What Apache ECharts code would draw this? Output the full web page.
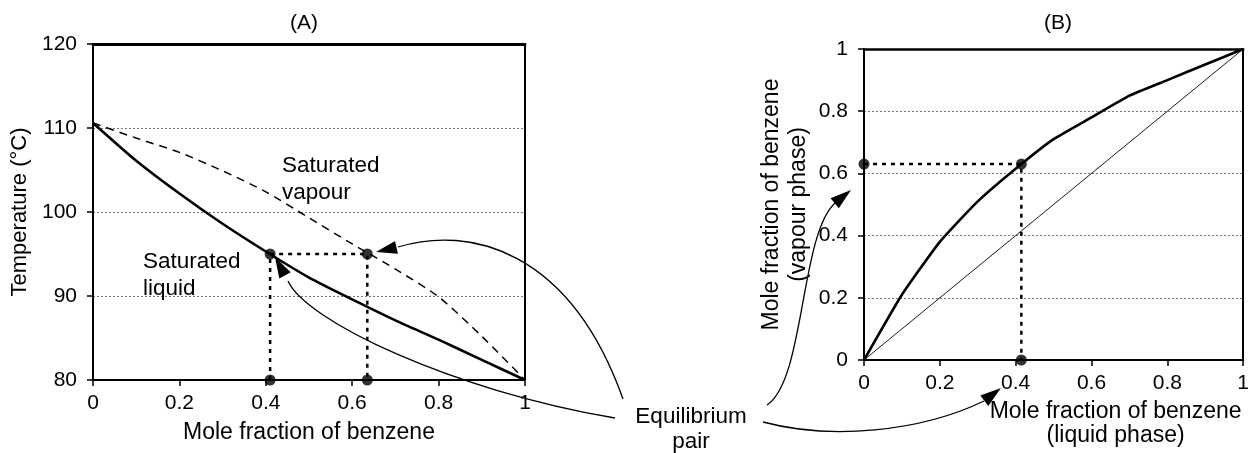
<!DOCTYPE html>
<html><head><meta charset="utf-8">
<script src="https://cdn.jsdelivr.net/npm/echarts@6/dist/echarts.min.js"></script>
<style>html,body{margin:0;padding:0;background:#fff}#c{width:1252px;height:453px}</style>
</head><body><div id="c"></div>
<script>
// ---- data (chart A: T-x-y diagram) ----
const liquidX = [0, 0.1, 0.2, 0.3, 0.4, 0.5, 0.6, 0.7, 0.8, 0.9, 1];
const liquidT = [110.6, 106.1, 102.2, 98.6, 95.3, 92.2, 89.6, 87.1, 84.8, 82.4, 80.0];
const vapourX = [0, 0.1, 0.2, 0.3, 0.4, 0.5, 0.6, 0.7, 0.8, 0.9, 1];
const vapourT = [110.6, 108.8, 107.1, 104.9, 102.4, 99.3, 96.2, 93.2, 89.9, 85.2, 80.0];
const pairT = 95;
const pairLiquidX = 0.41;
const pairVapourX = 0.635;
const tempTicks = [80, 90, 100, 110, 120];
// ---- data (chart B: x-y diagram) ----
const eqX = [0, 0.1, 0.2, 0.3, 0.4, 0.5, 0.6, 0.7, 0.8, 0.9, 1];
const eqY = [0, 0.21, 0.38, 0.51, 0.615, 0.71, 0.78, 0.85, 0.9, 0.95, 1];
const diagX = [0, 1];
const bLiquid = 0.415;
const bVapour = 0.63;
const fracTicks = [0, 0.2, 0.4, 0.6, 0.8, 1];

const FONT = '"Liberation Sans", Arial, Helvetica, sans-serif';
const zip = (a, b) => a.map((v, i) => [v, b[i]]);

const axisCommon = {
  type: 'value',
  axisLine: { show: true, onZero: false, lineStyle: { color: '#000', width: 2 } },
  axisTick: { show: true, inside: false, length: 6, lineStyle: { color: '#000', width: 1.5 } },
  axisLabel: { color: '#000', fontSize: 21, fontFamily: FONT, margin: 13 },
  nameTextStyle: { color: '#000', fontSize: 23, fontFamily: FONT, lineHeight: 26 },
  nameLocation: 'middle'
};
const yLabel = Object.assign({}, axisCommon.axisLabel, { margin: 16 });
const gridLines = { show: true, showMinLine: false, showMaxLine: false,
  lineStyle: { color: '#777', width: 1, type: [2, 2] } };
const borderAxis = (gridIndex, position, min, max, w) => ({
  type: 'value', gridIndex, position, min, max, show: true,
  axisLine: { show: true, onZero: false, lineStyle: { color: '#000', width: w } },
  axisTick: { show: false }, axisLabel: { show: false }, splitLine: { show: false }
});

const chart = echarts.init(document.getElementById('c'), null, { renderer: 'canvas' });

const option = {
  backgroundColor: '#fff',
  animation: false,
  grid: [
    { left: 93, top: 44, width: 432, height: 336 },
    { left: 864, top: 49, width: 386, height: 317 }
  ],
  xAxis: [
    Object.assign({}, axisCommon, { gridIndex: 0, min: fracTicks[0], max: fracTicks[fracTicks.length - 1], interval: 0.2,
      name: 'Mole fraction of benzene', nameGap: 40, splitLine: { show: false } }),
    Object.assign({}, axisCommon, { gridIndex: 1, min: fracTicks[0], max: fracTicks[fracTicks.length - 1], interval: 0.2,
      name: 'Mole fraction of benzene\n(liquid phase)', nameGap: 40, splitLine: { show: false },
      nameTextStyle: Object.assign({}, axisCommon.nameTextStyle, { padding: [0, 0, 0, 124], lineHeight: 24 }) }),
    borderAxis(0, 'top', 0, 1, 3),
    borderAxis(1, 'top', 0, 1, 2.5)
  ],
  yAxis: [
    Object.assign({}, axisCommon, { gridIndex: 0, min: tempTicks[0], max: tempTicks[tempTicks.length - 1], interval: 10,
      name: 'Temperature (°C)', nameGap: 60, splitLine: gridLines, axisLabel: yLabel,
      nameTextStyle: Object.assign({}, axisCommon.nameTextStyle, { fontSize: 22 }) }),
    Object.assign({}, axisCommon, { gridIndex: 1, min: fracTicks[0], max: fracTicks[fracTicks.length - 1], interval: 0.2,
      name: 'Mole fraction of benzene\n(vapour phase)', nameGap: 52, splitLine: gridLines, axisLabel: yLabel,
      nameTextStyle: Object.assign({}, axisCommon.nameTextStyle, { lineHeight: 27 }) }),
    borderAxis(0, 'right', 80, 120, 2),
    borderAxis(1, 'right', 0, 1, 2)
  ],
  series: [
    { type: 'line', xAxisIndex: 0, yAxisIndex: 0, data: zip(liquidX, liquidT), smooth: 0.2, symbol: 'none',
      lineStyle: { color: '#000', width: 2.6 } },
    { type: 'line', xAxisIndex: 0, yAxisIndex: 0, data: zip(vapourX, vapourT), smooth: 0.25, symbol: 'none',
      lineStyle: { color: '#000', width: 1.5, type: [8, 6] } },
    { type: 'line', xAxisIndex: 0, yAxisIndex: 0, symbol: 'none',
      data: [[pairLiquidX, tempTicks[0]], [pairLiquidX, pairT], [pairVapourX, pairT], [pairVapourX, tempTicks[0]]],
      lineStyle: { color: '#000', width: 2.5, type: [4, 5] } },
    { type: 'scatter', xAxisIndex: 0, yAxisIndex: 0, symbolSize: 11, clip: false, itemStyle: { color: '#000' },
      data: [[pairLiquidX, pairT], [pairVapourX, pairT], [pairLiquidX, tempTicks[0]], [pairVapourX, tempTicks[0]]] },

    { type: 'line', xAxisIndex: 1, yAxisIndex: 1, data: zip(diagX, diagX), symbol: 'none',
      lineStyle: { color: '#000', width: 0.9 } },
    { type: 'line', xAxisIndex: 1, yAxisIndex: 1, data: zip(eqX, eqY), smooth: 0.15, symbol: 'none',
      lineStyle: { color: '#000', width: 2.6 } },
    { type: 'line', xAxisIndex: 1, yAxisIndex: 1, symbol: 'none',
      data: [[0, bVapour], [bLiquid, bVapour], [bLiquid, 0]],
      lineStyle: { color: '#000', width: 2.5, type: [4, 5] } },
    { type: 'scatter', xAxisIndex: 1, yAxisIndex: 1, symbolSize: 11, clip: false, itemStyle: { color: '#000' },
      data: [[0, bVapour], [bLiquid, bVapour], [bLiquid, 0]] }
  ]
};
chart.setOption(option);

// ---- annotations (texts and curved arrows) ----
function arrow(p0, c1, c2, base, tip, L, w) {
  const dx = tip[0] - base[0], dy = tip[1] - base[1];
  const len = Math.hypot(dx, dy) || 1;
  const ux = dx / len, uy = dy / len;
  const bx = tip[0] - ux * L, by = tip[1] - uy * L;
  const nx = -uy, ny = ux;
  return [
    { type: 'bezierCurve', z: 10, shape: { x1: p0[0], y1: p0[1], cpx1: c1[0], cpy1: c1[1], cpx2: c2[0], cpy2: c2[1], x2: base[0], y2: base[1] },
      style: { stroke: '#000', lineWidth: 1.3, fill: null } },
    { type: 'polygon', z: 10, shape: { points: [tip, [bx + nx * w, by + ny * w], [bx - nx * w, by - ny * w]] },
      style: { fill: '#000', stroke: null } }
  ];
}
const txt = (text, x, y, align, size, lh) => ({ type: 'text', z: 10,
  style: { text, x, y, align, verticalAlign: 'middle', fill: '#000', font: size + 'px ' + FONT, lineHeight: lh || 26 } });

const graphics = [
  txt('(A)', 304, 23, 'center', 21),
  txt('(B)', 1058, 23, 'center', 21),
  txt('Saturated\nvapour', 282, 179, 'left', 22.5, 27),
  txt('Saturated\nliquid', 143, 275, 'left', 22.5, 27),
  txt('Equilibrium\npair', 691, 429, 'center', 22.5, 25)
]
.concat(arrow([623, 399], [570, 250], [470, 225], [398, 247], [376, 252], 21, 6.5))
.concat(arrow([615, 418], [450, 390], [305, 320], [288, 281], [275, 257], 21, 6.5))
.concat(arrow([767, 405], [805, 380], [800, 235], [835, 203], [851, 190], 21, 6.5))
.concat(arrow([763, 422], [830, 440], [920, 432], [984, 401], [1001, 388], 21, 6.5));

chart.setOption({ graphic: graphics });
</script>
</body></html>
